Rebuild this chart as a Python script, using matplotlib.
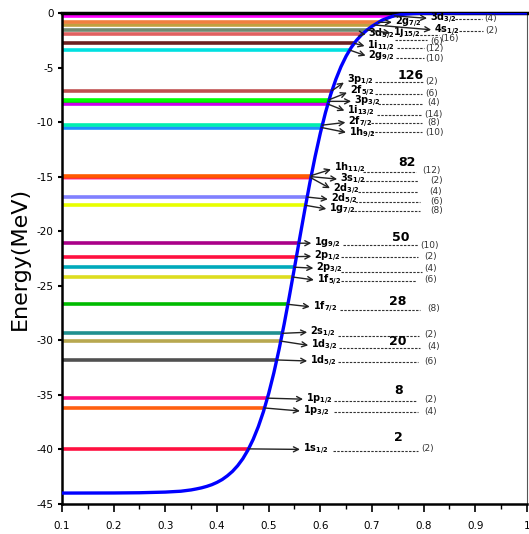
import numpy as np
import matplotlib
matplotlib.use("Agg")
import matplotlib.pyplot as plt
from matplotlib.ticker import MultipleLocator, FormatStrFormatter

plt.rcParams['axes.unicode_minus'] = False
plt.rcParams['mathtext.fontset'] = 'dejavusans'

# ---------------- data ----------------
# Woods-Saxon-like potential
pot_x = [0.10, 0.20, 0.25, 0.30, 0.33, 0.34, 0.35, 0.36, 0.37, 0.38, 0.39,
         0.40, 0.41, 0.42, 0.43, 0.44, 0.45, 0.46, 0.47, 0.48, 0.49, 0.50,
         0.51, 0.52, 0.53, 0.54, 0.55, 0.56, 0.57, 0.58, 0.59, 0.60, 0.61,
         0.62, 0.63, 0.64, 0.65, 0.66, 0.67, 0.68, 0.69, 0.70, 0.72, 0.74,
         0.76, 0.78, 0.80, 0.85, 0.90, 1.00]
pot_v = [-44.00, -43.99, -43.97, -43.91, -43.83, -43.77, -43.71, -43.62, -43.52, -43.39, -43.23,
         -43.02, -42.76, -42.42, -42.01, -41.49, -40.85, -40.05, -39.08, -37.91, -36.52, -34.88,
         -32.99, -30.86, -28.51, -25.98, -23.34, -20.66, -18.02, -15.49, -13.14, -11.01, -9.12,
         -7.48, -6.09, -4.92, -3.95, -3.15, -2.51, -1.99, -1.58, -1.22, -0.65, -0.30,
         -0.12, -0.05, -0.02, -0.01, 0.0, 0.0]

states = ['1s', '1p', '1p', '1d', '1d', '2s', '1f', '1f', '2p', '2p', '1g',
          '1g', '2d', '2d', '3s', '1h', '1h', '2f', '1i', '3p', '2f', '3p',
          '2g', '1i', '3d', '1j', '4s', '2g', '3d']
js = ['1/2', '3/2', '1/2', '5/2', '3/2', '1/2', '7/2', '5/2', '3/2', '1/2', '9/2',
      '7/2', '5/2', '3/2', '1/2', '11/2', '9/2', '7/2', '13/2', '3/2', '5/2', '1/2',
      '9/2', '11/2', '5/2', '15/2', '1/2', '7/2', '3/2']
energies = [-39.95, -36.2, -35.3, -31.8, -30.07, -29.36, -26.7, -24.2, -23.3, -22.33, -21.1,
            -17.63, -16.87, -15.1, -15.0, -14.9, -10.5, -10.28, -8.35, -8.1, -7.95, -7.12,
            -3.4, -2.78, -1.93, -1.56, -1.1, -0.86, -0.27]
degeneracy = [2, 4, 2, 6, 4, 2, 8, 6, 4, 2, 10,
              8, 6, 4, 2, 12, 10, 8, 14, 4, 6, 2,
              10, 12, 6, 16, 2, 8, 4]
colors = ['#ff1040', '#ff6010', '#ff1088', '#505050', '#b8a850', '#209090', '#00bb00',
          '#dddd20', '#00aabb', '#ff1040', '#aa0088',
          '#e8ff00', '#8080ff', '#ff80c0', '#ff2020', '#ff5a00', '#1e90ff', '#00f0b0',
          '#cc00ee', '#00cc00', '#00ff00', '#c05050',
          '#00e0e0', '#6b2020', '#e06060', '#708870', '#c0a040', '#f08040', '#ff00ff']

magic_numbers = ['2', '8', '20', '28', '50', '82', '126']

# ---------------- layout ----------------
text_x = [0.566, 0.566, 0.572, 0.580, 0.582, 0.580, 0.585, 0.593, 0.592, 0.588, 0.588,
          0.617, 0.620, 0.624, 0.638, 0.626, 0.655, 0.654, 0.652, 0.665, 0.657, 0.651,
          0.693, 0.691, 0.693, 0.741, 0.820, 0.744, 0.812]
text_y = [-40.0, -36.5, -35.4, -31.9, -30.5, -29.25, -26.95, -24.5, -23.4, -22.3, -21.1,
          -18.0, -17.1, -16.2, -15.25, -14.25, -11.0, -10.0, -9.05, -8.1, -7.2, -6.2,
          -4.0, -3.1, -2.0, -1.86, -1.56, -0.85, -0.5]
dash_x0 = [0.624, 0.627, 0.627, 0.634, 0.636, 0.634, 0.638, 0.640, 0.640, 0.640, 0.643,
           0.665, 0.667, 0.672, 0.680, 0.682, 0.699, 0.699, 0.710, 0.712, 0.706, 0.706,
           0.746, 0.748, 0.744, 0.785, 0.868, np.nan, 0.860]
dash_x1 = [0.789, 0.789, 0.785, 0.789, 0.793, 0.791, 0.793, 0.785, 0.797, 0.789, 0.789,
           0.793, 0.793, 0.789, 0.789, 0.785, 0.796, 0.796, 0.796, 0.796, 0.796, 0.799,
           0.800, 0.800, 0.806, 0.830, 0.915, np.nan, 0.912]
dash_y = [-40.1, -36.6, -35.6, -32.0, -30.7, -29.6, -27.2, -24.6, -23.75, -22.4, -21.3,
          -18.15, -17.3, -16.4, -15.4, -14.55, -10.9, -10.05, -9.35, -8.3, -7.45, -6.3,
          -4.15, -3.25, -2.45, -2.05, -1.65, np.nan, -0.58]
deg_x = [0.796, 0.802, 0.802, 0.802, 0.806, 0.802, 0.806, 0.802, 0.802, 0.802, 0.793,
         0.812, 0.812, 0.810, 0.812, 0.798, 0.803, 0.806, 0.802, 0.806, 0.803, 0.803,
         0.803, 0.803, 0.812, 0.833, 0.919, np.nan, 0.917]
deg_y = [-39.95, -36.5, -35.45, -31.95, -30.6, -29.5, -27.05, -24.45, -23.4, -22.35, -21.35,
         -18.1, -17.25, -16.35, -15.35, -14.4, -10.95, -10.05, -9.3, -8.25, -7.4, -6.3,
         -4.2, -3.25, -2.6, -2.3, -1.6, np.nan, -0.55]
magic_x = [0.752, 0.752, 0.750, 0.750, 0.755, 0.768, 0.774]
magic_y = [-38.9, -34.6, -30.1, -26.4, -20.55, -13.7, -5.7]

# ---------------- figure ----------------
fig = plt.figure(figsize=(5.29, 5.34), dpi=100)
ax = fig.add_axes([0.1172, 0.0562, 0.8790, 0.9195])

pot_x_arr = np.array(pot_x)
pot_v_arr = np.array(pot_v)

for i, E in enumerate(energies):
    xi = np.interp(E, pot_v_arr, pot_x_arr)
    ax.plot([0.1, xi], [E, E], color=colors[i], lw=2.6, solid_capstyle='butt', zorder=2)
    label = r'%s$_{\mathbf{%s}}$' % (states[i], js[i])
    ax.annotate(label, xy=(xi, E), xytext=(text_x[i], text_y[i]),
                ha='left', va='center', fontsize=7, fontweight='bold',
                arrowprops=dict(arrowstyle='<-', color='#222222', lw=1.0,
                                shrinkA=0, shrinkB=0, relpos=(0, 0.5),
                                mutation_scale=9),
                zorder=5)
    if not np.isnan(dash_x0[i]):
        ax.plot([dash_x0[i], dash_x1[i]], [dash_y[i], dash_y[i]], color='#333333',
                lw=0.8, ls=(0, (2.2, 1.2)), zorder=4)
        ax.text(deg_x[i], deg_y[i], '(%d)' % degeneracy[i], fontsize=6.5,
                color='#333333', ha='left', va='center', zorder=5)

ax.plot(pot_x, pot_v, color='#0000ff', lw=2.4, zorder=3)

for m, mx, my in zip(magic_numbers, magic_x, magic_y):
    ax.text(mx, my, m, fontsize=9, fontweight='bold', ha='center', va='center', zorder=5)

ax.set_xlim(0.1, 1.0)
ax.set_ylim(-45, 0)
ax.xaxis.set_major_locator(MultipleLocator(0.1))
ax.xaxis.set_minor_locator(MultipleLocator(0.05))
ax.yaxis.set_major_locator(MultipleLocator(5))
ax.xaxis.set_major_formatter(FormatStrFormatter('%g'))
ax.yaxis.set_major_formatter(FormatStrFormatter('%g'))
ax.tick_params(axis='x', which='major', direction='out', length=6, width=1.2,
               labelsize=7.5, pad=6)
ax.tick_params(axis='x', which='minor', direction='out', length=3.5, width=1.0)
ax.tick_params(axis='y', which='major', direction='out', length=3, width=1.5,
               labelsize=7.5, pad=3)

ax.spines['top'].set_linewidth(2.5)
ax.spines['left'].set_linewidth(1.8)
ax.spines['bottom'].set_linewidth(1.8)
ax.spines['right'].set_linewidth(0.8)
ax.spines['right'].set_color('#555555')

ax.set_ylabel('Energy(MeV)', fontsize=16)
ax.yaxis.set_label_coords(-0.07, 0.5)

fig.savefig('out.png', dpi=100)
